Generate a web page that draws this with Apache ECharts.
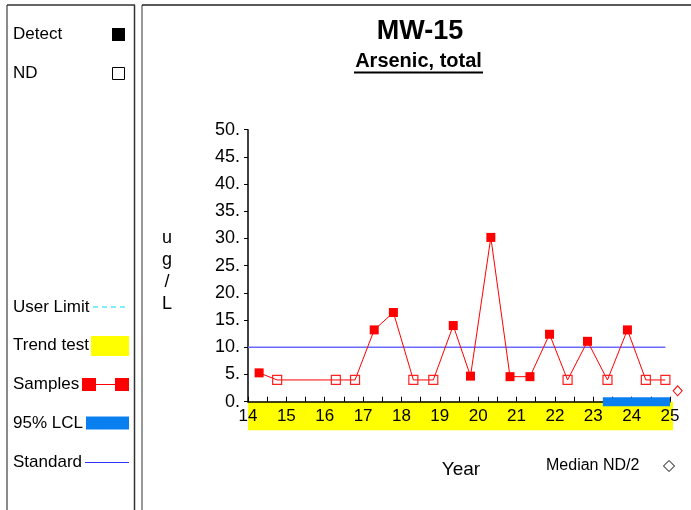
<!DOCTYPE html>
<html>
<head>
<meta charset="utf-8">
<script src="https://cdn.jsdelivr.net/npm/echarts@6/dist/echarts.min.js"></script>
<style>
  html, body { margin: 0; padding: 0; background: #fff; }
  #chart { width: 691px; height: 510px; }
</style>
</head>
<body>
<div id="chart"></div>
<script>
// Sampling dates (decimal years, 2000s) and arsenic results in ug/L
const sampleYears = [14.29, 14.76, 16.29, 16.79, 17.29, 17.79, 18.31, 18.83, 19.35, 19.80,
                     20.33, 20.83, 21.35, 21.86, 22.33, 22.85, 23.37, 23.89, 24.37, 24.88];
const sampleValues = [5.3, 4, 4, 4, 13.2, 16.4, 4, 4, 14, 4.7,
                      30.2, 4.6, 4.6, 12.4, 4, 11.1, 4, 13.2, 4, 4];
// 1 = detected, 0 = non-detect
const detectFlags = [1, 0, 0, 0, 1, 1, 0, 0, 1, 1,
                     1, 1, 1, 1, 0, 1, 0, 1, 0, 0];

const standardValue = 10;
const standardSpan = [14, 24.88];
const lclValue = 0;
const lclSpan = [23.25, 25];
const medianNDHalf = 2;
const medianNDYear = 25.2;

const yTicks = { min: 0, max: 50, step: 5 };
const xTicks = { min: 14, max: 25, step: 1 };

const FONT = "'Liberation Sans', Arial, sans-serif";

const samplePairs = sampleYears.map((y, i) => [y, sampleValues[i]]);
const detectPts = samplePairs.filter((p, i) => detectFlags[i] === 1);
const ndPts = samplePairs.filter((p, i) => detectFlags[i] === 0);

const chart = echarts.init(document.getElementById('chart'), null, { renderer: 'canvas' });

const GRID = { left: 248, right: 21, top: 129.7, bottom: 108.3 };

const option = {
  animation: false,
  backgroundColor: '#fff',
  grid: { left: GRID.left, right: GRID.right, top: GRID.top, bottom: GRID.bottom, containLabel: false },
  xAxis: {
    type: 'value', min: xTicks.min, max: xTicks.max, interval: xTicks.step,
    axisLine: { show: true, onZero: false, lineStyle: { color: '#000', width: 1.5 } },
    axisTick: { show: true, inside: true, length: 5, lineStyle: { color: '#000', width: 1 } },
    minorTick: { show: true, splitNumber: 2, length: 5, lineStyle: { color: '#000', width: 1 } },
    axisLabel: { color: '#000', fontSize: 17, fontFamily: FONT, margin: 6, showMinLabel: true, showMaxLabel: true },
    splitLine: { show: false }
  },
  yAxis: {
    type: 'value', min: yTicks.min, max: yTicks.max, interval: yTicks.step,
    axisLine: { show: true, lineStyle: { color: '#000', width: 1.5 } },
    axisTick: { show: true, length: 4, lineStyle: { color: '#000', width: 1 } },
    axisLabel: { color: '#000', fontSize: 18, fontFamily: FONT, margin: 8, formatter: v => v + '.' },
    splitLine: { show: false }
  },
  series: [
    {
      name: 'Standard', type: 'line', symbol: 'none', silent: true, z: 1,
      lineStyle: { color: '#6b6bff', width: 1.5 },
      data: [[standardSpan[0], standardValue], [standardSpan[1], standardValue]]
    },
    {
      name: 'Samples', type: 'line', symbol: 'none', z: 3,
      lineStyle: { color: '#ff0000', width: 1 },
      data: samplePairs
    },
    {
      name: 'Detect', type: 'scatter', symbol: 'rect', symbolSize: 9, z: 4,
      itemStyle: { color: '#ff0000', opacity: 1 },
      data: detectPts
    },
    {
      name: 'ND', type: 'scatter', symbol: 'rect', symbolSize: 9, z: 4,
      itemStyle: { color: 'rgba(0,0,0,0)', borderColor: '#ff2020', borderWidth: 1.2, opacity: 1 },
      data: ndPts
    },
    {
      name: '95% LCL', type: 'line', symbol: 'none', clip: false, z: 5,
      lineStyle: { color: '#0a80f0', width: 9, cap: 'butt' },
      data: [[lclSpan[0], lclValue], [lclSpan[1], lclValue]]
    },
    {
      name: 'Median ND/2', type: 'scatter', symbol: 'diamond', symbolSize: [9, 10], clip: false, z: 4,
      itemStyle: { color: '#fff', borderColor: '#ff0000', borderWidth: 1, opacity: 1 },
      data: [[medianNDYear, medianNDHalf]]
    }
  ],
  graphic: []
};

chart.setOption(option);

// Pixel positions of the plot area for the trend band and decorations
const p0 = chart.convertToPixel({ gridIndex: 0 }, [xTicks.min, 0]);
const p1 = chart.convertToPixel({ gridIndex: 0 }, [xTicks.max, 0]);

const graphics = [
  // panel frames
  { type: 'line', shape: { x1: 7, y1: 5, x2: 7, y2: 512 }, style: { stroke: '#8a8a8a', lineWidth: 2 } },
  { type: 'line', shape: { x1: 7, y1: 5, x2: 135, y2: 5 }, style: { stroke: '#333', lineWidth: 1.5 } },
  { type: 'line', shape: { x1: 134.5, y1: 5, x2: 134.5, y2: 512 }, style: { stroke: '#333', lineWidth: 1.5 } },
  { type: 'line', shape: { x1: 142, y1: 5, x2: 142, y2: 512 }, style: { stroke: '#777', lineWidth: 1.5 } },
  { type: 'line', shape: { x1: 142, y1: 5, x2: 692, y2: 5 }, style: { stroke: '#222', lineWidth: 1.5 } },

  // trend test band under the x axis
  { type: 'rect', z: -10, shape: { x: p0[0], y: p0[1], width: p1[0] - p0[0] + 3, height: 28.5 }, style: { fill: '#ffff00' } },

  // titles
  { type: 'text', x: 420, y: 32, style: { text: 'MW-15', font: 'bold 27px ' + FONT, fill: '#000', align: 'center', verticalAlign: 'middle' } },
  { type: 'text', x: 418.5, y: 61, style: { text: 'Arsenic, total', font: 'bold 20px ' + FONT, fill: '#000', align: 'center', verticalAlign: 'middle' } },
  { type: 'line', shape: { x1: 354, y1: 72.5, x2: 483, y2: 72.5 }, style: { stroke: '#000', lineWidth: 2 } },

  // axis titles
  { type: 'text', x: 167, y: 271, style: { text: 'u\ng\n/\nL', font: '18px ' + FONT, fill: '#000', align: 'center', verticalAlign: 'middle', lineHeight: 22 } },
  { type: 'text', x: 461, y: 470, style: { text: 'Year', font: '19px ' + FONT, fill: '#000', align: 'center', verticalAlign: 'middle' } },
  { type: 'text', x: 546, y: 466, style: { text: 'Median ND/2', font: '16px ' + FONT, fill: '#000', align: 'left', verticalAlign: 'middle' } },
  { type: 'polygon', shape: { points: [[669, 460.5], [674.5, 466], [669, 471.5], [663.5, 466]] }, style: { fill: '#fff', stroke: '#000', lineWidth: 1 } },

  // legend panel
  { type: 'text', x: 13, y: 34, style: { text: 'Detect', font: '17px ' + FONT, fill: '#000', verticalAlign: 'middle' } },
  { type: 'rect', shape: { x: 112, y: 28, width: 13, height: 13 }, style: { fill: '#000' } },
  { type: 'text', x: 13, y: 73, style: { text: 'ND', font: '17px ' + FONT, fill: '#000', verticalAlign: 'middle' } },
  { type: 'rect', shape: { x: 112.5, y: 67.5, width: 12, height: 12 }, style: { fill: '#fff', stroke: '#000', lineWidth: 1 } },

  { type: 'text', x: 13, y: 307, style: { text: 'User Limit', font: '17px ' + FONT, fill: '#000', verticalAlign: 'middle' } },
  { type: 'line', shape: { x1: 93, y1: 307, x2: 129, y2: 307 }, style: { stroke: '#00e0f0', lineWidth: 1, lineDash: [5, 4] } },

  { type: 'text', x: 13, y: 345, style: { text: 'Trend test', font: '17px ' + FONT, fill: '#000', verticalAlign: 'middle' } },
  { type: 'rect', shape: { x: 91, y: 336, width: 38, height: 20 }, style: { fill: '#ffff00' } },

  { type: 'text', x: 13, y: 384, style: { text: 'Samples', font: '17px ' + FONT, fill: '#000', verticalAlign: 'middle' } },
  { type: 'line', shape: { x1: 89, y1: 384.5, x2: 122, y2: 384.5 }, style: { stroke: '#ff0000', lineWidth: 1.2 } },
  { type: 'rect', shape: { x: 82, y: 378, width: 14, height: 13 }, style: { fill: '#ff0000' } },
  { type: 'rect', shape: { x: 115, y: 378, width: 14, height: 13 }, style: { fill: '#ff0000' } },

  { type: 'text', x: 13, y: 423, style: { text: '95% LCL', font: '17px ' + FONT, fill: '#000', verticalAlign: 'middle' } },
  { type: 'rect', shape: { x: 86, y: 416.5, width: 43, height: 13 }, style: { fill: '#0a80f0' } },

  { type: 'text', x: 13, y: 462, style: { text: 'Standard', font: '17px ' + FONT, fill: '#000', verticalAlign: 'middle' } },
  { type: 'line', shape: { x1: 85, y1: 462.5, x2: 129, y2: 462.5 }, style: { stroke: '#3030ff', lineWidth: 1.2 } }
];

chart.setOption({ graphic: graphics });
</script>
</body>
</html>
